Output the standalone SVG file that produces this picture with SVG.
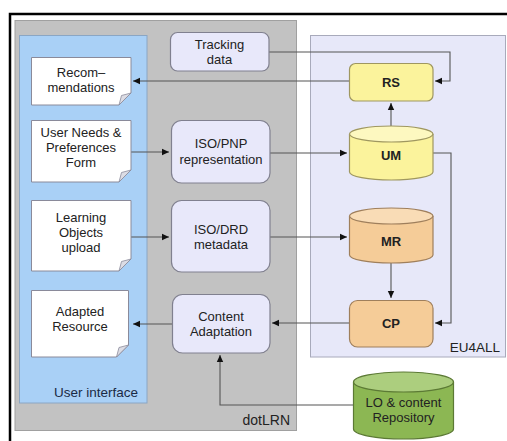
<svg xmlns="http://www.w3.org/2000/svg" width="507" height="441" viewBox="0 0 507 441">
<defs>
<marker id="ah" markerWidth="8" markerHeight="8" refX="7" refY="4" orient="auto" markerUnits="userSpaceOnUse">
<path d="M0,0.8 L7,4 L0,7.2 Z" fill="#111"/>
</marker>
<style>
text{font-family:"Liberation Sans",Arial,sans-serif;font-size:13px;fill:#222;text-anchor:middle}
.b{font-weight:bold}
.lav{fill:#e8e8fa;stroke:#80808f;stroke-width:1.2}
.doc{fill:#ffffff;stroke:#8a8a9a;stroke-width:1}
.fold{fill:#dcdce4;stroke:#8a8a9a;stroke-width:0.8}
.yel{fill:#fbf39c;stroke:#9f9760;stroke-width:1.2}
.yel2{fill:#fdf8c0;stroke:#9f9760;stroke-width:1.2}
.org{fill:#f5cc98;stroke:#9f7f5c;stroke-width:1.2}
.org2{fill:#f9dcb6;stroke:#9f7f5c;stroke-width:1.2}
.grn{fill:#8cb753;stroke:#5c7a35;stroke-width:1.2}
.grn2{fill:#acce7e;stroke:#5c7a35;stroke-width:1.2}
.c{fill:none;stroke:#555;stroke-width:1.1}
</style>
</defs>
<rect width="507" height="441" fill="#fff"/>
<path d="M10,441 V14 H507" fill="none" stroke="#000" stroke-width="2.5"/>
<g id="dotLRN">
<rect x="15" y="20.5" width="281.5" height="410" fill="#c2c2c2" stroke="#a0a0a0"/>
<text x="290" y="425" style="text-anchor:end;font-size:14px">dotLRN</text>
</g>
<g id="ui">
<rect x="19.5" y="35.5" width="127.5" height="367.5" fill="#a9d0f6" stroke="#8aa6c4"/>
<text x="138" y="397" style="text-anchor:end;font-size:13.5px;fill:#1b2a45">User interface</text>
</g>
<g id="eu4all">
<rect x="310.5" y="35.5" width="195" height="321.5" fill="#e7e8f9" stroke="#a8aabb"/>
<text x="500" y="352" style="text-anchor:end;font-size:13.5px">EU4ALL</text>
</g>
<g id="connectors">
<path class="c" d="M269,52 H450 V81 H435" marker-end="url(#ah)"/>
<path class="c" d="M349,81 H133" marker-end="url(#ah)"/>
<path class="c" d="M391,126 V103" marker-end="url(#ah)"/>
<path class="c" d="M131,152 H169" marker-end="url(#ah)"/>
<path class="c" d="M270,153 H347" marker-end="url(#ah)"/>
<path class="c" d="M131,237 H169" marker-end="url(#ah)"/>
<path class="c" d="M270,237 H347" marker-end="url(#ah)"/>
<path class="c" d="M391,263 V298" marker-end="url(#ah)"/>
<path class="c" d="M433,153 H451 V323 H435" marker-end="url(#ah)"/>
<path class="c" d="M349,323 H272" marker-end="url(#ah)"/>
<path class="c" d="M172,324 H133" marker-end="url(#ah)"/>
<path class="c" d="M353,405 H220 V355" marker-end="url(#ah)"/>
</g>
<g id="tracking">
<rect class="lav" x="170.5" y="32.5" width="98.5" height="38.5" rx="7"/>
<text x="219.5" y="49">Tracking</text>
<text x="219.5" y="64">data</text>
</g>
<g id="recom">
<path class="doc" d="M31.5,57.5 H131 V93 L119,105 H31.5 Z"/>
<path class="fold" d="M131,93 L119,105 L121.5,95.5 Z"/>
<text x="81" y="77">Recom–</text>
<text x="81" y="92">mendations</text>
</g>
<g id="unp">
<path class="doc" d="M31.5,120.5 H131 V170 L119,182 H31.5 Z"/>
<path class="fold" d="M131,170 L119,182 L121.5,172.5 Z"/>
<text x="81" y="137">User Needs &amp;</text>
<text x="81" y="152">Preferences</text>
<text x="81" y="167">Form</text>
</g>
<g id="isopnp">
<rect class="lav" x="171.5" y="120.5" width="98.5" height="62.5" rx="10"/>
<text x="221" y="148">ISO/PNP</text>
<text x="221" y="164">representation</text>
</g>
<g id="lou">
<path class="doc" d="M31.5,200.5 H131 V259 L119,271 H31.5 Z"/>
<path class="fold" d="M131,259 L119,271 L121.5,261.5 Z"/>
<text x="81" y="222">Learning</text>
<text x="81" y="237">Objects</text>
<text x="81" y="252">upload</text>
</g>
<g id="isodrd">
<rect class="lav" x="171.5" y="200.5" width="98.5" height="71.5" rx="10"/>
<text x="221" y="234">ISO/DRD</text>
<text x="221" y="249">metadata</text>
</g>
<g id="adapted">
<path class="doc" d="M31.5,290.5 H128.5 V345 L116.5,357 H31.5 Z"/>
<path class="fold" d="M128.5,345 L116.5,357 L119,347.5 Z"/>
<text x="80" y="316">Adapted</text>
<text x="80" y="331">Resource</text>
</g>
<g id="contentadapt">
<rect class="lav" x="172.5" y="294.5" width="97.5" height="58.5" rx="10"/>
<text x="221" y="321">Content</text>
<text x="221" y="336">Adaptation</text>
</g>
<g id="rs">
<rect class="yel" x="349.5" y="63.5" width="83.5" height="37.5" rx="6"/>
<text class="b" x="391" y="87">RS</text>
</g>
<g id="um">
<path class="yel" d="M349.5,134 V172 A41.75,8 0 0 0 433,172 V134"/>
<ellipse class="yel2" cx="391.25" cy="134" rx="41.75" ry="8"/>
<text class="b" x="391" y="160">UM</text>
</g>
<g id="mr">
<path class="org" d="M349.5,216 V255 A41.75,8 0 0 0 433,255 V216"/>
<ellipse class="org2" cx="391.25" cy="216" rx="41.75" ry="8"/>
<text class="b" x="391" y="246">MR</text>
</g>
<g id="cp">
<rect class="org" x="349.5" y="300.5" width="83.5" height="46.5" rx="8"/>
<text class="b" x="391" y="328">CP</text>
</g>
<g id="lorepo">
<path class="grn" d="M353.5,382 V429 A50,10 0 0 0 453.5,429 V382"/>
<ellipse class="grn2" cx="403.5" cy="382" rx="50" ry="10"/>
<text x="403.5" y="407">LO &amp; content</text>
<text x="403.5" y="422">Repository</text>
</g>
</svg>
